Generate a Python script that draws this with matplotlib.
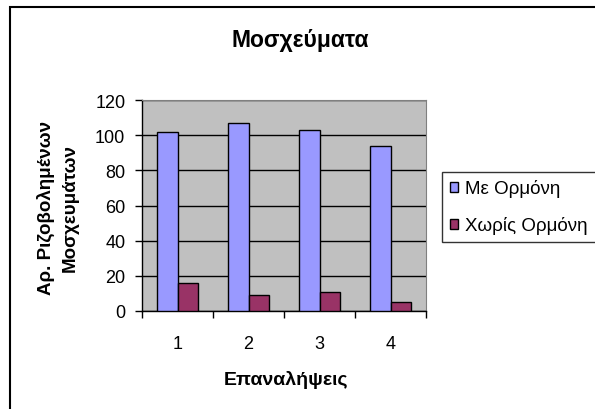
import matplotlib
matplotlib.use("Agg")
import matplotlib.pyplot as plt
import numpy as np
from matplotlib.patches import Patch, Rectangle

plt.rcParams["font.family"] = ["Liberation Sans", "DejaVu Sans"]

# data
repetitions = ["1", "2", "3", "4"]
with_hormone = [102, 107, 103, 94]
without_hormone = [16, 9, 11, 5]
series_names = ["Με Ορμόνη", "Χωρίς Ορμόνη"]
y_ticks = [0, 20, 40, 60, 80, 100, 120]

BLUE = "#9999FF"
MAROON = "#993366"

fig = plt.figure(figsize=(5.95, 4.10), dpi=100)
ax = fig.add_axes([142 / 595, 1 - 312 / 410, 284 / 595, 211 / 410])

x = np.arange(len(repetitions))
width = 1 / 3.5
ax.bar(x - width / 2, with_hormone, width, color=BLUE, edgecolor="black", linewidth=1, zorder=3)
ax.bar(x + width / 2, without_hormone, width, color=MAROON, edgecolor="black", linewidth=1, zorder=3)

ax.set_facecolor("#C0C0C0")
ax.set_xlim(-0.5, len(repetitions) - 0.5)
ax.set_ylim(0, 120)
ax.set_yticks(y_ticks)
ax.set_yticklabels([str(v) for v in y_ticks], fontsize=13)
ax.yaxis.grid(True, color="black", linewidth=1, zorder=1)
ax.set_axisbelow(True)

# ticks between categories, labels centred on them
ax.set_xticks(np.arange(-0.5, len(repetitions)), minor=False)
ax.set_xticklabels([])
ax.set_xticks(x, minor=True)
ax.set_xticklabels(repetitions, minor=True, fontsize=13)
ax.tick_params(axis="x", which="minor", length=0, pad=17)
ax.tick_params(axis="x", which="major", length=5, width=1, direction="out")
ax.tick_params(axis="y", length=5, width=1, direction="out", pad=7)

for side in ["top", "right"]:
    ax.spines[side].set_color("#808080")
for side in ["left", "bottom"]:
    ax.spines[side].set_color("black")
    ax.spines[side].set_linewidth(1)

fig.text(286 / 595, 1 - 385 / 410, "Επαναλήψεις", ha="center", va="baseline",
         fontsize=14, fontweight="bold")
fig.text(58 / 595, 1 - 208 / 410, "Αρ. Ριζοβολημένων\nΜοσχευμάτων", rotation=90,
         ha="center", va="center", fontsize=13.5, fontweight="bold", linespacing=1.55)

fig.text(300 / 595, 1 - 47 / 410, "Μοσχεύματα", ha="center", va="baseline",
         fontsize=16.5, fontweight="bold")

handles = [Patch(facecolor=c, edgecolor="black", linewidth=1) for c in (BLUE, MAROON)]
leg = fig.legend(handles, series_names, loc="upper left", bbox_to_anchor=(442 / 595, 1 - 173 / 410),
                 fontsize=13.5, frameon=True, fancybox=False, handlelength=0.45, handleheight=0.45,
                 handletextpad=0.4, borderpad=0.4, labelspacing=1.0, borderaxespad=0)
leg.get_frame().set_edgecolor("black")
leg.get_frame().set_linewidth(1)

# outer chart border (right and bottom edges fall outside the picture)
fig.patches.append(Rectangle((10 / 595, -0.1), 1.2, 1 - 8 / 410 + 0.1, transform=fig.transFigure,
                             fill=False, edgecolor="black", linewidth=1.5, clip_on=False))

fig.savefig("out.png", dpi=100)
